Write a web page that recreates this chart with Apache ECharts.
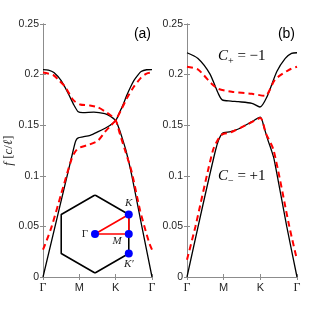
<!DOCTYPE html>
<html><head><meta charset="utf-8">
<script src="https://cdn.jsdelivr.net/npm/echarts@6/dist/echarts.min.js"></script>
<style>html,body{margin:0;padding:0;background:#fff}#c{width:328px;height:312px}</style>
</head><body><div id="c"></div>
<script>
// ---- data ----
const xTickValues = [0, 1, 2, 3];
const xTickLabels = ['Γ', 'M', 'K', 'Γ'];
const yTickValues = [0, 0.05, 0.1, 0.15, 0.2, 0.25];
const yTickLabels = ['0', '0.05', '0.1', '0.15', '0.2', '0.25'];

// panel (a)
const aBlackUpX = [0, 0.15, 0.3, 0.5, 0.7, 0.85, 0.97, 1.1, 1.4, 1.7, 1.85, 2.0, 2.1, 2.2, 2.28, 2.44, 2.72, 3.0];
const aBlackUpY = [0.205, 0.2045, 0.202, 0.194, 0.181, 0.170, 0.1632, 0.1625, 0.163, 0.1615, 0.159, 0.1545, 0.146, 0.135, 0.1255, 0.101, 0.05, 0];
const aBlackLoX = [0, 0.834, 0.9, 0.97, 1.1, 1.3, 1.52, 1.71, 1.85, 2.0, 2.1, 2.2, 2.3, 2.4, 2.5, 2.6, 2.7, 2.85, 3.0];
const aBlackLoY = [0, 0.1255, 0.1345, 0.1375, 0.1385, 0.140, 0.1436, 0.147, 0.150, 0.1545, 0.162, 0.170, 0.179, 0.187, 0.194, 0.199, 0.203, 0.2048, 0.205];
const aRedUpX = [0, 0.28, 0.45, 0.61, 0.83, 1.02, 1.29, 1.52, 1.71, 1.85, 2.0, 2.12, 2.26, 2.44, 2.67, 2.83, 2.93, 3.0];
const aRedUpY = [0.202, 0.1996, 0.194, 0.188, 0.175, 0.1705, 0.1695, 0.1675, 0.1635, 0.160, 0.155, 0.141, 0.125, 0.104, 0.066, 0.045, 0.033, 0.027];
const aRedLoX = [0, 0.1, 0.24, 0.5, 0.79, 0.9, 1.02, 1.29, 1.52, 1.71, 1.85, 2.0, 2.15, 2.3, 2.5, 2.7, 2.85, 3.0];
const aRedLoY = [0.027, 0.036, 0.05, 0.082, 0.117, 0.1245, 0.128, 0.131, 0.135, 0.1436, 0.149, 0.155, 0.165, 0.176, 0.188, 0.197, 0.201, 0.202];

// panel (b)
const bBlackUpX = [0, 0.3, 0.62, 0.85, 0.96, 1.2, 1.4, 1.77, 1.99, 2.18, 2.45, 2.68, 2.85, 3.0];
const bBlackUpY = [0.2216, 0.216, 0.201, 0.1815, 0.175, 0.1738, 0.1732, 0.1716, 0.168, 0.178, 0.203, 0.216, 0.221, 0.2216];
const bBlackLoX = [0, 0.78, 0.96, 1.19, 1.45, 1.77, 2.0, 2.1, 2.2, 2.3, 2.38, 2.72, 3.0];
const bBlackLoY = [0, 0.1255, 0.142, 0.1436, 0.147, 0.1535, 0.158, 0.148, 0.136, 0.1255, 0.1156, 0.05, 0];
const bRedUpX = [0, 0.3, 0.67, 0.85, 1.22, 1.77, 2.13, 2.4, 2.77, 3.0];
const bRedUpY = [0.2078, 0.205, 0.191, 0.186, 0.183, 0.181, 0.179, 0.195, 0.2045, 0.2078];
const bRedLoX = [0, 0.23, 0.71, 0.9, 1.0, 1.2, 1.66, 2.0, 2.15, 2.36, 2.79, 3.0];
const bRedLoY = [0.017, 0.05, 0.1255, 0.139, 0.1415, 0.143, 0.151, 0.157, 0.142, 0.1255, 0.05, 0.017];

// inset: Brillouin zone (units of circumradius)
const hexX = [0, 0.866, 0.866, 0, -0.866, -0.866, 0];
const hexY = [1, 0.5, -0.5, -1, -0.5, 0.5, 1];
const pathX = [0, 0.866, 0.866, 0];
const pathY = [0, 0, 0.5, 0];
const ptNames = ['Γ', 'K', 'M', "K′"];
const ptX = [0, 0.866, 0.866, 0.866];
const ptY = [0, 0.5, 0, -0.5];

const panelLabels = ['(a)', '(b)'];
const chernTexts = ['{c|C}{s|+} = −1', '{c|C}{s|−} = +1'];

// ---- build ----
const zip = (xs, ys) => xs.map((x, i) => [x, ys[i]]);
const AX = '#8c8c8c';
const TXT = '#262626';
const serif = 'Liberation Serif';

function xAxes(gi) {
  return [
    { gridIndex: gi, type: 'value', min: 0, max: 3, interval: 1, position: 'bottom',
      axisLine: { lineStyle: { color: AX, width: 1 } },
      axisTick: { inside: true, length: 3, lineStyle: { color: AX } },
      splitLine: { show: false },
      axisLabel: { margin: 5, color: TXT, fontSize: 11, fontFamily: 'Liberation Sans',
        formatter: v => { const i = xTickValues.indexOf(v); const t = i >= 0 ? xTickLabels[i] : '';
          return t === 'Γ' ? '{g|Γ}' : t; },
        rich: { g: { fontFamily: serif, fontSize: 12, color: TXT } } } },
    { gridIndex: gi, type: 'value', min: 0, max: 3, interval: 1, position: 'top',
      axisLine: { lineStyle: { color: AX, width: 1 } },
      axisTick: { inside: true, length: 3, lineStyle: { color: AX } },
      splitLine: { show: false }, axisLabel: { show: false } }
  ];
}
function yAxes(gi, withName) {
  const a = { gridIndex: gi, type: 'value', min: 0, max: 0.25, interval: 0.05, position: 'left',
      axisLine: { show: true, lineStyle: { color: AX, width: 1 } },
      axisTick: { show: true, inside: true, length: 3, lineStyle: { color: AX } },
      splitLine: { show: false },
      axisLabel: { margin: 4, color: TXT, fontSize: 10.5, fontFamily: 'Liberation Sans',
        formatter: v => { const i = yTickValues.findIndex(t => Math.abs(t - v) < 1e-9); return i >= 0 ? yTickLabels[i] : ''; } } };
  if (withName) {
    a.name = '{i|f} [{i|c}/{i|ℓ}]';
    a.nameLocation = 'middle';
    a.nameGap = 21;
    a.nameTextStyle = { color: TXT, fontSize: 13, fontFamily: serif,
      rich: { i: { fontFamily: serif, fontStyle: 'italic', fontSize: 13, color: TXT } } };
  }
  return [a,
    { gridIndex: gi, type: 'value', min: 0, max: 0.25, interval: 0.05, position: 'right',
      axisLine: { show: true, lineStyle: { color: AX, width: 1 } },
      axisTick: { show: true, inside: true, length: 3, lineStyle: { color: AX } },
      splitLine: { show: false }, axisLabel: { show: false } }];
}

function curve(xi, yi, xs, ys, red) {
  return { type: 'line', xAxisIndex: xi, yAxisIndex: yi, data: zip(xs, ys), symbol: 'none',
    smooth: 0.25, animation: false, z: red ? 3 : 2,
    lineStyle: red ? { color: '#ff0000', width: 2, type: [6, 4] } : { color: '#000', width: 1.3 } };
}

const chernRich = {
  c: { fontFamily: serif, fontStyle: 'italic', fontSize: 15, fill: '#000' },
  s: { fontFamily: serif, fontSize: 10, verticalAlign: 'bottom', padding: [9, 0, 0, 0], fill: '#000' }
};

const option = {
  animation: false,
  grid: [
    { left: 43, top: 24, width: 109, height: 253 },
    { left: 187, top: 24, width: 110, height: 253 },
    { left: 56, top: 195, width: 78, height: 78 }
  ],
  xAxis: [...xAxes(0), ...xAxes(1),
    { gridIndex: 2, type: 'value', min: -1, max: 1, show: false }],
  yAxis: [...yAxes(0, true), ...yAxes(1, false),
    { gridIndex: 2, type: 'value', min: -1, max: 1, show: false }],
  series: [
    curve(0, 0, aBlackUpX, aBlackUpY, false),
    curve(0, 0, aBlackLoX, aBlackLoY, false),
    curve(0, 0, aRedUpX, aRedUpY, true),
    curve(0, 0, aRedLoX, aRedLoY, true),
    curve(2, 2, bBlackUpX, bBlackUpY, false),
    curve(2, 2, bBlackLoX, bBlackLoY, false),
    curve(2, 2, bRedUpX, bRedUpY, true),
    curve(2, 2, bRedLoX, bRedLoY, true),
    { type: 'line', xAxisIndex: 4, yAxisIndex: 4, data: zip(hexX, hexY), symbol: 'none',
      lineStyle: { color: '#000', width: 1.6 }, z: 5 },
    { type: 'line', xAxisIndex: 4, yAxisIndex: 4, data: zip(pathX, pathY), symbol: 'none',
      lineStyle: { color: '#ff0000', width: 1.6 }, z: 6 },
    { type: 'scatter', xAxisIndex: 4, yAxisIndex: 4, symbolSize: 8, z: 7,
      itemStyle: { color: '#0000ff', opacity: 1 },
      data: ptNames.map((n, i) => {
        const pos = [['left', 3, [0, 0]], ['top', 2, [0, 0]], ['left', 3, [0, 7]], ['bottom', 1, [0, 0]]][i];
        return { value: [ptX[i], ptY[i]], name: n,
          label: { show: true, position: pos[0], distance: pos[1], offset: pos[2], formatter: n,
            fontFamily: serif, fontSize: 11, color: TXT, fontStyle: n === 'Γ' ? 'normal' : 'italic' } };
      }) }
  ],
  graphic: [
    { type: 'text', right: 328 - 151, top: 27, style: { text: panelLabels[0], font: '14px "Liberation Sans"', fill: '#000' } },
    { type: 'text', right: 328 - 295, top: 27, style: { text: panelLabels[1], font: '14px "Liberation Sans"', fill: '#000' } },
    { type: 'text', left: 218, top: 49, style: { text: chernTexts[0], rich: chernRich,
      font: '15px "Liberation Serif"', fill: '#000' } },
    { type: 'text', left: 218, top: 169, style: { text: chernTexts[1], rich: chernRich,
      font: '15px "Liberation Serif"', fill: '#000' } }
  ]
};
const chart = echarts.init(document.getElementById('c'), null, { renderer: 'canvas' });
chart.setOption(option);
</script></body></html>
